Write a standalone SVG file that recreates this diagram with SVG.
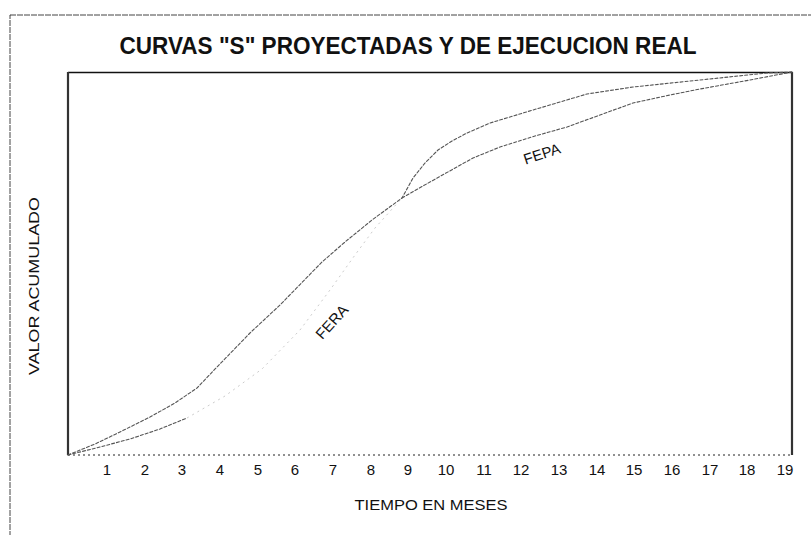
<svg xmlns="http://www.w3.org/2000/svg" width="811" height="535" viewBox="0 0 811 535">
<style>
  text { font-family: "Liberation Sans", Arial, sans-serif; fill: #111; }
  .title { font-size: 23px; font-weight: bold; text-anchor: middle; }
  .num { font-size: 15px; text-anchor: middle; }
  .axis { font-size: 15px; text-anchor: middle; }
  .lbl { font-size: 15px; text-anchor: middle; }
  .curve { fill: none; stroke: #555; stroke-width: 1.1; stroke-dasharray: 3 2; stroke-linejoin: round; stroke-linecap: round; }
  .faint { fill: none; stroke: #ccc; stroke-width: 1; stroke-dasharray: 2 4; }
</style>
<rect width="811" height="535" fill="#fff"/>
<g id="outer-frame">
  <rect x="10" y="15" width="820" height="540" fill="none" stroke="#444" stroke-width="1" stroke-dasharray="6 1"/>
</g>
<g id="title">
  <text class="title" x="408" y="54" textLength="577" lengthAdjust="spacingAndGlyphs">CURVAS "S" PROYECTADAS Y DE EJECUCION REAL</text>
</g>
<g id="plot-frame">
  <line x1="68" y1="72.5" x2="792" y2="72.5" stroke="#111" stroke-width="1.4"/>
  <line x1="68" y1="72" x2="68" y2="455" stroke="#333" stroke-width="2.2"/>
  <line x1="792" y1="72" x2="792" y2="455" stroke="#333" stroke-width="2.2"/>
  <line x1="68" y1="455" x2="792" y2="455" stroke="#222" stroke-width="1" stroke-dasharray="2 3"/>
</g>
<g id="connectors">
  <g id="curve-fepa">
    <polyline class="faint" points="187,418 225,396 262,369 300,330 330,290 355,255 375,228 402,198"/>
    <polyline class="curve" points="68,455 100,447 130,439 160,429 187,418"/>
    <polyline class="curve" points="402,198 430,182 473,158 500,147 535,136 567,127 600,115 633,103 670,95 700,89 750,80 792,72"/>
  </g>
  <g id="curve-fera">
    <polyline class="curve" points="68,455 95,444 120,432 150,417 175,403 197,388 217,367 250,333 280,305 322,262 345,242 372,220 402,198 413,178 425,163 438,150 452,141 467,133 490,123 533,110 587,94 633,87 700,80 767,73 792,72"/>
  </g>
</g>
<g id="label-fera">
  <text class="lbl" x="332" y="327" transform="rotate(-48 332 322)">FERA</text>
</g>
<g id="label-fepa">
  <text class="lbl" x="542" y="159" transform="rotate(-18 542 154)">FEPA</text>
</g>
<g id="x-axis-numbers">
  <text class="num" x="107" y="475">1</text>
  <text class="num" x="145" y="475">2</text>
  <text class="num" x="182" y="475">3</text>
  <text class="num" x="220" y="475">4</text>
  <text class="num" x="258" y="475">5</text>
  <text class="num" x="295" y="475">6</text>
  <text class="num" x="333" y="475">7</text>
  <text class="num" x="371" y="475">8</text>
  <text class="num" x="408" y="475">9</text>
  <text class="num" x="446" y="475">10</text>
  <text class="num" x="484" y="475">11</text>
  <text class="num" x="521" y="475">12</text>
  <text class="num" x="559" y="475">13</text>
  <text class="num" x="597" y="475">14</text>
  <text class="num" x="634" y="475">15</text>
  <text class="num" x="672" y="475">16</text>
  <text class="num" x="710" y="475">17</text>
  <text class="num" x="747" y="475">18</text>
  <text class="num" x="785" y="475">19</text>
</g>
<g id="x-axis-title">
  <text class="axis" x="431" y="510" textLength="153" lengthAdjust="spacingAndGlyphs">TIEMPO EN MESES</text>
</g>
<g id="y-axis-title">
  <text class="axis" x="0" y="0" transform="translate(39 286) rotate(-90)" textLength="178" lengthAdjust="spacingAndGlyphs">VALOR ACUMULADO</text>
</g>
</svg>
